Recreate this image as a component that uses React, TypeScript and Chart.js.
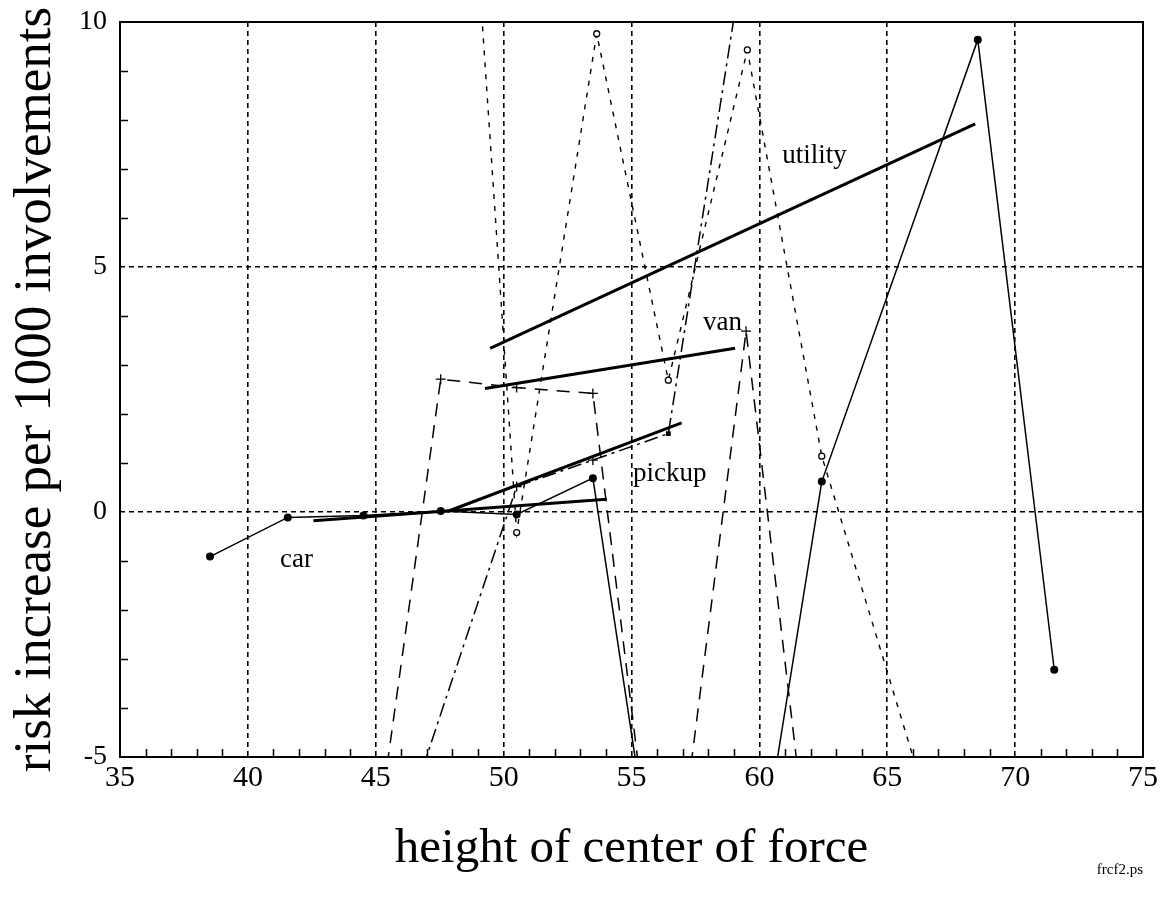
import React, { useEffect, useRef } from 'react';
import { Chart, registerables } from 'chart.js';

Chart.register(...registerables);

// ---- data ----
const carX = [38.52, 41.56, 44.52, 47.54, 50.51, 53.49, 56.5, 59.5, 62.44, 68.54, 71.53];
const carY = [-0.91, -0.11, -0.07, 0.02, -0.05, 0.69, -9.7, -8.95, 0.62, 9.64, -3.22];

const utilityX = [47.5, 50.51, 53.64, 56.44, 59.53, 62.44, 68.5];
const utilityY = [22.86, -0.42, 9.76, 2.69, 9.43, 1.14, -9.28];

const vanX = [44.5, 47.54, 50.51, 53.49, 56.28, 59.48, 62.5];
const vanY = [-8.72, 2.71, 2.54, 2.42, -9.47, 3.69, -9.69];

const pickupX = [44.5, 50.51, 53.49, 56.44, 59.5];
const pickupY = [-8.88, 0.52, 1.06, 1.6, 11.71];

const carFitX = [42.56, 54.03];
const carFitY = [-0.18, 0.26];
const pickupFitX = [47.8, 56.96];
const pickupFitY = [0.01, 1.82];
const vanFitX = [49.27, 59.05];
const vanFitY = [2.52, 3.34];
const utilityFitX = [49.47, 68.44];
const utilityFitY = [3.34, 7.92];

const xRange = [35, 75];
const yRange = [-5, 10];
const majorStep = 5;
const minorStep = 1;

const seriesLabels = ['car', 'pickup', 'van', 'utility'];
const labelAnchorX = [41.26, 55.06, 57.8, 60.89];
const labelAnchorY = [-1.12, 0.63, 3.71, 7.12];

const xTitle = 'height of center of force';
const yTitle = 'risk increase per 1000 involvements';
const fileTag = 'frcf2.ps';

const SERIF = '"Liberation Serif", "Times New Roman", Times, serif';

const pts = (xs: number[], ys: number[]) => xs.map((x, i) => ({ x, y: ys[i] }));

const decorPlugin = {
  id: 'decor',
  afterDatasetsDraw(chart: any) {
    const { ctx, chartArea: a, scales } = chart;
    const xs = scales.x;
    const ys = scales.y;
    ctx.save();
    // minor ticks (inward)
    ctx.strokeStyle = '#000';
    ctx.lineWidth = 1.5;
    ctx.beginPath();
    for (let v = xRange[0]; v <= xRange[1]; v += minorStep) {
      if (v % majorStep === 0) continue;
      const px = Math.round(xs.getPixelForValue(v)) + 0.5;
      ctx.moveTo(px, a.bottom);
      ctx.lineTo(px, a.bottom - 8);
    }
    for (let v = yRange[0]; v <= yRange[1]; v += minorStep) {
      if (v % majorStep === 0) continue;
      const py = Math.round(ys.getPixelForValue(v)) + 0.5;
      ctx.moveTo(a.left, py);
      ctx.lineTo(a.left + 8, py);
    }
    ctx.stroke();
    // frame
    ctx.lineWidth = 2;
    ctx.strokeRect(a.left, a.top, a.right - a.left, a.bottom - a.top);
    // series labels
    ctx.fillStyle = '#000';
    ctx.font = '27px ' + SERIF;
    ctx.textAlign = 'left';
    ctx.textBaseline = 'alphabetic';
    seriesLabels.forEach((t, i) => {
      ctx.fillText(t, xs.getPixelForValue(labelAnchorX[i]), ys.getPixelForValue(labelAnchorY[i]));
    });
    // file tag
    ctx.font = '15px ' + SERIF;
    ctx.textAlign = 'right';
    ctx.fillText(fileTag, a.right, a.bottom + 117);
    ctx.restore();
  },
};

export default function App() {
  const ref = useRef<HTMLCanvasElement | null>(null);
  useEffect(() => {
    if (!ref.current) return;
    const chart = new Chart(ref.current, {
      type: 'scatter',
      data: {
        datasets: [
          {
            label: 'car',
            data: pts(carX, carY),
            showLine: true,
            borderColor: '#000',
            borderWidth: 1.5,
            pointRadius: 4,
            pointBackgroundColor: '#000',
            pointBorderColor: '#000',
            pointBorderWidth: 0,
          },
          {
            label: 'utility',
            data: pts(utilityX, utilityY),
            showLine: true,
            borderColor: '#000',
            borderWidth: 1.4,
            borderDash: [5, 7],
            pointRadius: 3,
            pointBackgroundColor: '#fff',
            pointBorderColor: '#000',
            pointBorderWidth: 1.3,
          },
          {
            label: 'van',
            data: pts(vanX, vanY),
            showLine: true,
            borderColor: '#000',
            borderWidth: 1.5,
            borderDash: [13, 9],
            pointStyle: 'cross',
            pointRadius: 5,
            pointBorderColor: '#000',
            pointBorderWidth: 1.3,
          },
          {
            label: 'pickup',
            data: pts(pickupX, pickupY),
            showLine: true,
            borderColor: '#000',
            borderWidth: 1.5,
            borderDash: [14, 5, 3, 5],
            pointStyle: ['cross', 'cross', 'cross', 'rect', 'cross'],
            pointRadius: [5, 5, 5, 2.5, 5],
            pointBackgroundColor: '#000',
            pointBorderColor: '#000',
            pointBorderWidth: 1.3,
          },
          { label: 'car fit', data: pts(carFitX, carFitY), showLine: true, borderColor: '#000', borderWidth: 3, pointRadius: 0 },
          { label: 'pickup fit', data: pts(pickupFitX, pickupFitY), showLine: true, borderColor: '#000', borderWidth: 3, pointRadius: 0 },
          { label: 'van fit', data: pts(vanFitX, vanFitY), showLine: true, borderColor: '#000', borderWidth: 3, pointRadius: 0 },
          { label: 'utility fit', data: pts(utilityFitX, utilityFitY), showLine: true, borderColor: '#000', borderWidth: 3, pointRadius: 0 },
        ],
      },
      options: {
        animation: false,
        responsive: false,
        devicePixelRatio: 1,
        events: [],
        layout: { padding: { top: 22, right: 19, left: 0, bottom: 0 } },
        plugins: { legend: { display: false }, tooltip: { enabled: false }, title: { display: false } },
        scales: {
          x: {
            type: 'linear',
            min: xRange[0],
            max: xRange[1],
            afterFit: (s: any) => { s.height = 144; s.paddingLeft = 0; s.paddingRight = 0; },
            ticks: { stepSize: majorStep, color: '#000', font: { family: SERIF, size: 30 }, padding: 3, maxRotation: 0 },
            grid: { color: '#000', lineWidth: 1.6, drawTicks: false },
            border: { display: false, dash: [5, 4] },
            title: { display: true, text: xTitle, color: '#000', font: { family: SERIF, size: 49 }, padding: { top: 0, bottom: 22 } },
          },
          y: {
            type: 'linear',
            min: yRange[0],
            max: yRange[1],
            afterFit: (s: any) => { s.width = 120; s.paddingTop = 0; s.paddingBottom = 0; },
            ticks: { stepSize: majorStep, color: '#000', font: { family: SERIF, size: 28 }, padding: 13 },
            grid: { color: '#000', lineWidth: 1.6, drawTicks: false },
            border: { display: false, dash: [5, 4] },
            title: { display: true, text: yTitle, color: '#000', font: { family: SERIF, size: 53 }, padding: { top: 4, bottom: 0 } },
          },
        },
      },
      plugins: [decorPlugin],
    } as any);
    return () => chart.destroy();
  }, []);
  return (
    <div style={{ position: 'absolute', left: 0, top: 0, width: 1162, height: 901, background: '#fff' }}>
      <canvas ref={ref} width={1162} height={901} />
    </div>
  );
}
